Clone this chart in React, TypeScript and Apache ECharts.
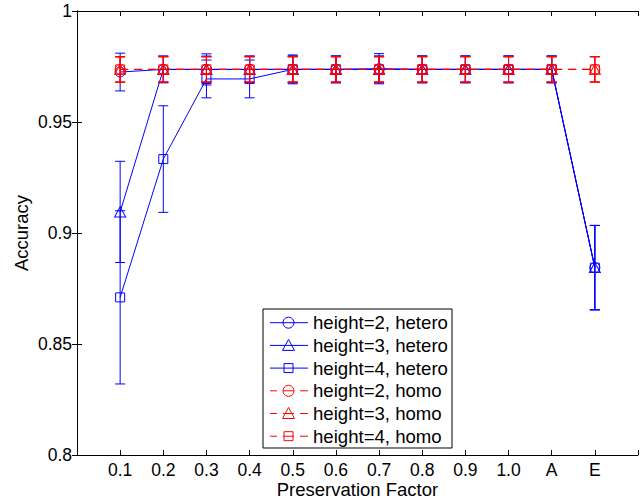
import React, { useEffect, useRef } from "react";
import * as echarts from "echarts";

const categories = ["0.1", "0.2", "0.3", "0.4", "0.5", "0.6", "0.7", "0.8", "0.9", "1.0", "A", "E"];
const yTicks = [0.8, 0.85, 0.9, 0.95, 1];

const heteroH2 = [0.9725, 0.9737, 0.9737, 0.9737, 0.9737, 0.9737, 0.974, 0.9737, 0.9737, 0.9737, 0.9737, 0.8844];
const heteroH2Err = [0.0085, 0.006, 0.006, 0.006, 0.0065, 0.006, 0.0068, 0.006, 0.006, 0.006, 0.006, 0.019];
const heteroH3 = [0.9095, 0.9737, 0.9737, 0.9737, 0.9737, 0.9737, 0.9737, 0.9737, 0.9737, 0.9737, 0.9737, 0.8844];
const heteroH3Err = [0.0228, 0.006, 0.007, 0.006, 0.006, 0.006, 0.006, 0.006, 0.006, 0.006, 0.006, 0.019];
const heteroH4 = [0.871, 0.9333, 0.9694, 0.9694, 0.9737, 0.9737, 0.9737, 0.9737, 0.9737, 0.9737, 0.9737, 0.8844];
const heteroH4Err = [0.039, 0.024, 0.0085, 0.0085, 0.006, 0.006, 0.006, 0.006, 0.006, 0.006, 0.006, 0.019];
const homoH2 = [0.9736, 0.9737, 0.9737, 0.9737, 0.9737, 0.9737, 0.9737, 0.9737, 0.9737, 0.9737, 0.9737, 0.9737];
const homoH2Err = [0.0057, 0.0057, 0.0057, 0.0057, 0.0057, 0.0057, 0.0057, 0.0057, 0.0057, 0.0057, 0.0057, 0.0057];
const homoH3 = [0.9737, 0.9737, 0.9737, 0.9737, 0.9737, 0.9737, 0.9737, 0.9737, 0.9737, 0.9737, 0.9737, 0.9737];
const homoH3Err = [0.0057, 0.0057, 0.0057, 0.0057, 0.0057, 0.0057, 0.0057, 0.0057, 0.0057, 0.0057, 0.0057, 0.0057];
const homoH4 = [0.9737, 0.9737, 0.9737, 0.9737, 0.9737, 0.9737, 0.9737, 0.9737, 0.9737, 0.9737, 0.9737, 0.9737];
const homoH4Err = [0.0057, 0.0057, 0.0057, 0.0057, 0.0057, 0.0057, 0.0057, 0.0057, 0.0057, 0.0057, 0.0057, 0.0057];

const seriesNames = [
  "height=2, hetero",
  "height=3, hetero",
  "height=4, hetero",
  "height=2, homo",
  "height=3, homo",
  "height=4, homo",
];

const BLUE = "#0000ff";
const RED = "#ff0000";
const FONT = "Liberation Sans, Arial, Helvetica, sans-serif";

export default function App() {
  const ref = useRef<HTMLDivElement>(null);
  useEffect(() => {
    if (!ref.current) return;
    const chart = echarts.init(ref.current, undefined, { renderer: "svg" });

    const defs = [
      { name: seriesNames[0], vals: heteroH2, errs: heteroH2Err, color: BLUE, symbol: "circle", dashed: false },
      { name: seriesNames[1], vals: heteroH3, errs: heteroH3Err, color: BLUE, symbol: "triangle", dashed: false },
      { name: seriesNames[2], vals: heteroH4, errs: heteroH4Err, color: BLUE, symbol: "rect", dashed: false },
      { name: seriesNames[3], vals: homoH2, errs: homoH2Err, color: RED, symbol: "circle", dashed: true },
      { name: seriesNames[4], vals: homoH3, errs: homoH3Err, color: RED, symbol: "triangle", dashed: true },
      { name: seriesNames[5], vals: homoH4, errs: homoH4Err, color: RED, symbol: "rect", dashed: true },
    ];

    const series: any[] = [];
    defs.forEach((d, si) => {
      series.push({
        type: "custom",
        name: d.name + " err",
        xAxisIndex: 0,
        yAxisIndex: 0,
        silent: true,
        z: 2 + si * 2,
        data: d.vals.map((v, i) => [i + 1, v, d.errs[i]]),
        renderItem: (params: any, api: any) => {
          const x = api.value(0);
          const y = api.value(1);
          const e = api.value(2);
          const top = api.coord([x, y + e]);
          const bot = api.coord([x, y - e]);
          const hw = 5;
          const style = { stroke: d.color, lineWidth: 1 };
          return {
            type: "group",
            children: [
              { type: "line", shape: { x1: top[0], y1: top[1], x2: bot[0], y2: bot[1] }, style },
              { type: "line", shape: { x1: top[0] - hw, y1: top[1], x2: top[0] + hw, y2: top[1] }, style },
              { type: "line", shape: { x1: bot[0] - hw, y1: bot[1], x2: bot[0] + hw, y2: bot[1] }, style },
            ],
          };
        },
      });
      series.push({
        type: "line",
        name: d.name,
        xAxisIndex: 0,
        yAxisIndex: 0,
        z: 3 + si * 2,
        data: d.vals.map((v, i) => [i + 1, v]),
        symbol: d.symbol,
        symbolSize: d.symbol === "rect" ? 9 : d.symbol === "triangle" ? [11, 10] : 10,
        showAllSymbol: true,
        lineStyle: { color: d.color, width: 1, type: d.dashed ? [8, 6] : "solid" },
        itemStyle: { color: "rgba(0,0,0,0)", borderColor: d.color, borderWidth: 1 },
        emphasis: { disabled: true },
      });
    });

    // Legend drawn with graphic elements
    const legLeft = 263;
    const legTop = 309;
    const legW = 189;
    const legH = 139;
    const rowY0 = 322.7;
    const rowStep = 22.7;
    const legendChildren: any[] = [
      {
        type: "rect",
        shape: { x: legLeft, y: legTop, width: legW, height: legH },
        style: { fill: "#ffffff", stroke: "#000000", lineWidth: 1 },
      },
    ];
    defs.forEach((d, i) => {
      const cy = rowY0 + i * rowStep;
      const mx = 288.5;
      if (d.dashed) {
        legendChildren.push({ type: "line", shape: { x1: 270, y1: cy, x2: 277, y2: cy }, style: { stroke: d.color, lineWidth: 1 } });
        legendChildren.push({ type: "line", shape: { x1: 283, y1: cy, x2: 294, y2: cy }, style: { stroke: d.color, lineWidth: 1 } });
        legendChildren.push({ type: "line", shape: { x1: 300, y1: cy, x2: 308, y2: cy }, style: { stroke: d.color, lineWidth: 1 } });
      } else {
        legendChildren.push({ type: "line", shape: { x1: 270, y1: cy, x2: 308, y2: cy }, style: { stroke: d.color, lineWidth: 1 } });
      }
      const ms = { fill: "none", stroke: d.color, lineWidth: 1 };
      if (d.symbol === "circle") {
        legendChildren.push({ type: "circle", shape: { cx: mx, cy, r: 5.5 }, style: ms });
      } else if (d.symbol === "triangle") {
        legendChildren.push({ type: "polygon", shape: { points: [[mx, cy - 6], [mx - 6, cy + 5], [mx + 6, cy + 5]] }, style: ms });
      } else {
        legendChildren.push({ type: "rect", shape: { x: mx - 4.5, y: cy - 4.5, width: 9, height: 9 }, style: ms });
      }
      legendChildren.push({
        type: "text",
        x: 313,
        y: cy,
        style: { text: d.name, fill: "#000000", font: `18.6px ${FONT}`, textVerticalAlign: "middle", textAlign: "left" },
      });
    });

    const axisLineStyle = { lineStyle: { color: "#000000", width: 1 } };

    chart.setOption({
      animation: false,
      backgroundColor: "#ffffff",
      grid: { left: 77, top: 11, right: 6, bottom: 46, containLabel: false, outerBoundsMode: "none" },
      xAxis: [
        {
          type: "value",
          min: 0,
          max: 13,
          interval: 1,
          position: "bottom",
          axisLine: { show: true, ...axisLineStyle },
          axisTick: { show: true, inside: true, length: 5, lineStyle: { color: "#000000" } },
          splitLine: { show: false },
          axisLabel: {
            show: true,
            margin: 6,
            color: "#000000",
            fontSize: 17.5,
            lineHeight: 17,
            fontFamily: FONT,
            formatter: (v: number) => (v >= 1 && v <= categories.length ? categories[v - 1] : ""),
          },
          name: "Preservation Factor",
          nameLocation: "middle",
          nameGap: 26,
          nameMoveOverlap: false,
          nameTextStyle: { color: "#000000", fontSize: 18.5, lineHeight: 17, fontFamily: FONT, verticalAlign: "top" },
        },
        {
          type: "value",
          min: 0,
          max: 13,
          interval: 1,
          position: "top",
          axisLine: { show: true, ...axisLineStyle },
          axisTick: { show: true, inside: true, length: 5, lineStyle: { color: "#000000" } },
          splitLine: { show: false },
          axisLabel: { show: false },
        },
      ],
      yAxis: [
        {
          type: "value",
          min: 0.8,
          max: 1,
          interval: 0.05,
          position: "left",
          axisLine: { show: true, ...axisLineStyle },
          axisTick: { show: true, inside: true, length: 5, lineStyle: { color: "#000000" } },
          splitLine: { show: false },
          axisLabel: {
            show: true,
            margin: 5,
            color: "#000000",
            fontSize: 17.5,
            fontFamily: FONT,
            formatter: (v: number) => {
              const t = yTicks.find((y) => Math.abs(y - v) < 1e-6);
              return t === undefined ? "" : String(t);
            },
          },
          name: "Accuracy",
          nameLocation: "middle",
          nameGap: 46,
          nameMoveOverlap: false,
          nameTextStyle: { color: "#000000", fontSize: 18.5, fontFamily: FONT },
        },
        {
          type: "value",
          min: 0.8,
          max: 1,
          interval: 0.05,
          position: "right",
          axisLine: { show: true, ...axisLineStyle },
          axisTick: { show: true, inside: true, length: 5, lineStyle: { color: "#000000" } },
          splitLine: { show: false },
          axisLabel: { show: false },
        },
      ],
      series,
      graphic: [{ type: "group", z: 100, children: legendChildren }],
    });

    return () => chart.dispose();
  }, []);

  return <div ref={ref} style={{ width: 644, height: 501, position: "absolute", left: 0, top: 0 }} />;
}
